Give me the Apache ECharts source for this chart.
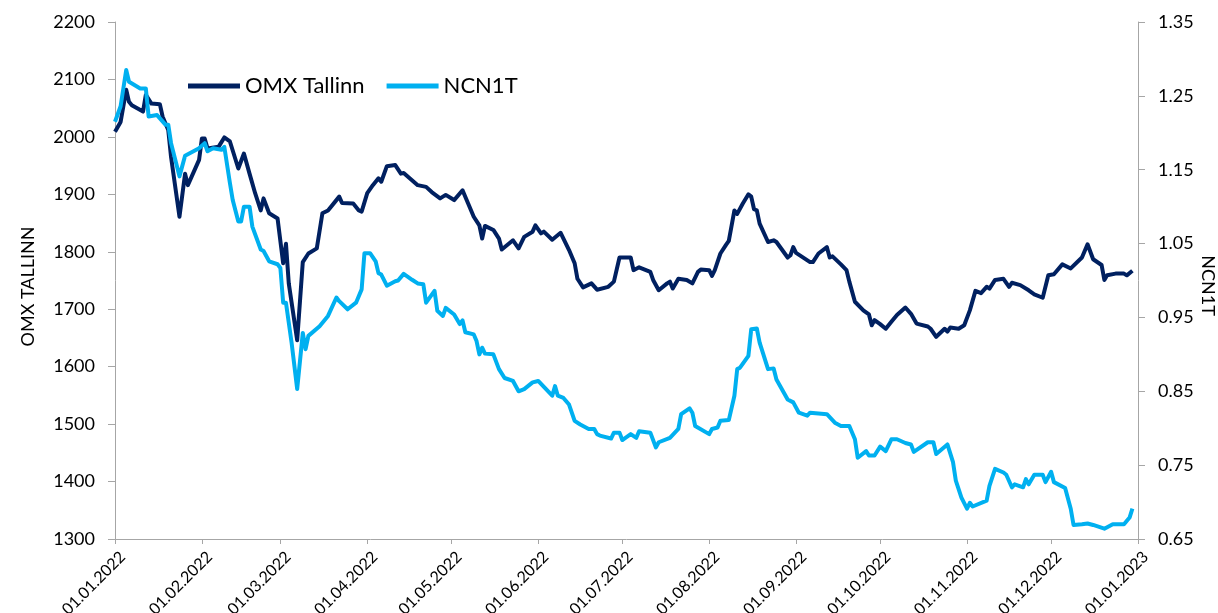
<!DOCTYPE html>
<html>
<head>
<meta charset="utf-8">
<script src="https://cdn.jsdelivr.net/npm/echarts@6/dist/echarts.min.js"></script>
<style>
html,body{margin:0;padding:0;background:#fff;}
#chart{width:1218px;height:613px;}
</style>
</head>
<body>
<div id="chart"></div>
<script>
const seriesNames = ['OMX Tallinn', 'NCN1T'];
const leftAxisName = 'OMX TALLINN';
const rightAxisName = 'NCN1T';
const xTickDates = ['2022-01-01','2022-02-01','2022-03-01','2022-04-01','2022-05-01','2022-06-01','2022-07-01','2022-08-01','2022-09-01','2022-10-01','2022-11-01','2022-12-01','2023-01-01'];

const omxDates = ['2022-01-01','2022-01-03','2022-01-05','2022-01-06','2022-01-07','2022-01-11','2022-01-12','2022-01-14','2022-01-17','2022-01-18','2022-01-20','2022-01-21','2022-01-24','2022-01-26','2022-01-27','2022-01-31',
'2022-02-01','2022-02-02','2022-02-03','2022-02-07','2022-02-09','2022-02-11','2022-02-14','2022-02-16','2022-02-18','2022-02-20','2022-02-22','2022-02-23','2022-02-25','2022-02-28',
'2022-03-02','2022-03-03','2022-03-04','2022-03-07','2022-03-09','2022-03-11','2022-03-14','2022-03-16','2022-03-18','2022-03-22','2022-03-23','2022-03-27','2022-03-29','2022-03-30',
'2022-04-01','2022-04-03','2022-04-05','2022-04-06','2022-04-08','2022-04-11','2022-04-13','2022-04-14','2022-04-19','2022-04-22','2022-04-24','2022-04-27','2022-04-29',
'2022-05-02','2022-05-05','2022-05-07','2022-05-09','2022-05-11','2022-05-12','2022-05-13','2022-05-16','2022-05-18','2022-05-19','2022-05-23','2022-05-25','2022-05-27','2022-05-30','2022-05-31',
'2022-06-02','2022-06-03','2022-06-06','2022-06-09','2022-06-12','2022-06-14','2022-06-15','2022-06-17','2022-06-20','2022-06-22','2022-06-26','2022-06-28','2022-06-30',
'2022-07-04','2022-07-05','2022-07-07','2022-07-11','2022-07-12','2022-07-14','2022-07-17','2022-07-18','2022-07-19','2022-07-21','2022-07-24','2022-07-26','2022-07-28','2022-07-29',
'2022-08-01','2022-08-02','2022-08-03','2022-08-05','2022-08-07','2022-08-08','2022-08-10','2022-08-11','2022-08-13','2022-08-15','2022-08-16','2022-08-17','2022-08-18','2022-08-19','2022-08-22','2022-08-24','2022-08-25','2022-08-29','2022-08-30','2022-08-31',
'2022-09-01','2022-09-06','2022-09-07','2022-09-09','2022-09-12','2022-09-13','2022-09-14','2022-09-17','2022-09-19','2022-09-20','2022-09-22','2022-09-25','2022-09-27','2022-09-28','2022-09-29',
'2022-10-01','2022-10-03','2022-10-05','2022-10-07','2022-10-10','2022-10-12','2022-10-14','2022-10-18','2022-10-19','2022-10-21','2022-10-24','2022-10-25','2022-10-26','2022-10-29','2022-10-31',
'2022-11-02','2022-11-04','2022-11-06','2022-11-08','2022-11-09','2022-11-11','2022-11-14','2022-11-16','2022-11-17','2022-11-20','2022-11-23','2022-11-25','2022-11-28','2022-11-30',
'2022-12-02','2022-12-05','2022-12-08','2022-12-12','2022-12-14','2022-12-16','2022-12-19','2022-12-20','2022-12-21','2022-12-24','2022-12-27','2022-12-28','2022-12-30'];
const omxValues = [2009,2026,2082,2061,2055,2044,2073,2058,2057,2035,2012,1965,1861,1936,1916,1960,
1997,1997,1980,1983,1999,1992,1945,1971,1936,1902,1872,1893,1867,1858,
1780,1814,1745,1646,1782,1797,1806,1867,1872,1896,1885,1884,1872,1870,
1902,1916,1928,1922,1949,1951,1936,1937,1916,1913,1904,1893,1899,
1890,1907,1884,1861,1846,1823,1845,1838,1823,1804,1820,1806,1826,1835,1846,
1832,1835,1821,1833,1803,1780,1753,1738,1745,1734,1739,1748,1790,
1790,1768,1773,1765,1751,1733,1745,1748,1736,1753,1751,1745,1765,1769,
1768,1758,1768,1797,1812,1819,1872,1866,1884,1900,1896,1874,1872,1849,1817,1820,1817,1790,1794,1808,
1798,1782,1782,1797,1808,1790,1792,1778,1768,1748,1713,1698,1691,1672,1681,
1674,1666,1678,1690,1703,1692,1675,1670,1666,1652,1666,1661,1668,1666,1672,
1698,1732,1728,1739,1736,1751,1753,1739,1746,1742,1733,1726,1720,1759,
1761,1778,1771,1790,1813,1787,1777,1751,1759,1762,1762,1759,1767];

const ncnDates = ['2022-01-01','2022-01-03','2022-01-05','2022-01-06','2022-01-10','2022-01-12','2022-01-13','2022-01-16','2022-01-19','2022-01-20','2022-01-21','2022-01-24','2022-01-26','2022-01-28','2022-01-31',
'2022-02-02','2022-02-03','2022-02-05','2022-02-08','2022-02-09','2022-02-11','2022-02-12','2022-02-14','2022-02-15','2022-02-16','2022-02-18','2022-02-19','2022-02-22','2022-02-23','2022-02-25','2022-02-28',
'2022-03-01','2022-03-02','2022-03-03','2022-03-05','2022-03-07','2022-03-09','2022-03-10','2022-03-11','2022-03-15','2022-03-18','2022-03-21','2022-03-22','2022-03-25','2022-03-28','2022-03-30','2022-03-31',
'2022-04-02','2022-04-04','2022-04-05','2022-04-06','2022-04-08','2022-04-11','2022-04-12','2022-04-14','2022-04-17','2022-04-19','2022-04-21','2022-04-22','2022-04-25','2022-04-26','2022-04-28','2022-04-29',
'2022-05-02','2022-05-04','2022-05-05','2022-05-06','2022-05-09','2022-05-10','2022-05-11','2022-05-12','2022-05-13','2022-05-16','2022-05-18','2022-05-20','2022-05-23','2022-05-25','2022-05-27','2022-05-30',
'2022-06-01','2022-06-06','2022-06-07','2022-06-08','2022-06-10','2022-06-12','2022-06-14','2022-06-16','2022-06-19','2022-06-21','2022-06-22','2022-06-23','2022-06-27','2022-06-28','2022-06-30',
'2022-07-01','2022-07-04','2022-07-06','2022-07-07','2022-07-11','2022-07-13','2022-07-14','2022-07-18','2022-07-21','2022-07-22','2022-07-25','2022-07-26','2022-07-27',
'2022-08-01','2022-08-02','2022-08-04','2022-08-05','2022-08-08','2022-08-10','2022-08-11','2022-08-12','2022-08-15','2022-08-16','2022-08-18','2022-08-19','2022-08-22','2022-08-24','2022-08-25','2022-08-29','2022-08-31',
'2022-09-02','2022-09-05','2022-09-06','2022-09-12','2022-09-15','2022-09-17','2022-09-20','2022-09-22','2022-09-23','2022-09-26','2022-09-27','2022-09-29',
'2022-10-01','2022-10-03','2022-10-05','2022-10-07','2022-10-10','2022-10-12','2022-10-13','2022-10-18','2022-10-20','2022-10-21','2022-10-25','2022-10-27','2022-10-28','2022-10-30',
'2022-11-01','2022-11-02','2022-11-03','2022-11-08','2022-11-09','2022-11-11','2022-11-14','2022-11-15','2022-11-17','2022-11-18','2022-11-21','2022-11-22','2022-11-23','2022-11-25','2022-11-28','2022-11-29',
'2022-12-01','2022-12-02','2022-12-06','2022-12-08','2022-12-09','2022-12-12','2022-12-14','2022-12-16','2022-12-20','2022-12-23','2022-12-27','2022-12-29','2022-12-30'];
const ncnValues = [1.215,1.236,1.285,1.269,1.260,1.260,1.222,1.224,1.211,1.211,1.186,1.141,1.169,1.173,1.179,
1.186,1.175,1.179,1.177,1.181,1.132,1.109,1.080,1.080,1.100,1.100,1.073,1.042,1.040,1.026,1.022,
1.017,0.970,0.970,0.916,0.853,0.929,0.907,0.925,0.938,0.952,0.977,0.972,0.961,0.970,0.988,1.037,
1.037,1.026,1.010,1.008,0.993,0.999,1.000,1.009,1.001,0.996,0.995,0.970,0.986,0.959,0.952,0.963,
0.954,0.941,0.946,0.930,0.927,0.918,0.900,0.909,0.901,0.900,0.880,0.868,0.864,0.850,0.853,0.862,
0.864,0.844,0.857,0.844,0.841,0.832,0.810,0.805,0.799,0.799,0.792,0.790,0.786,0.794,0.794,
0.784,0.792,0.787,0.796,0.794,0.774,0.781,0.787,0.799,0.819,0.827,0.821,0.803,
0.792,0.799,0.801,0.810,0.811,0.844,0.880,0.882,0.898,0.934,0.935,0.916,0.880,0.881,0.866,0.839,0.835,
0.821,0.817,0.821,0.819,0.807,0.803,0.803,0.785,0.760,0.769,0.763,0.763,
0.775,0.769,0.785,0.785,0.780,0.778,0.768,0.781,0.781,0.765,0.778,0.754,0.729,0.706,
0.691,0.699,0.694,0.702,0.722,0.745,0.740,0.737,0.720,0.724,0.720,0.731,0.724,0.737,0.737,0.727,
0.741,0.727,0.719,0.691,0.669,0.670,0.671,0.669,0.664,0.670,0.670,0.679,0.691];

function ts(s) { const p = s.split('-'); return new Date(+p[0], +p[1] - 1, +p[2]).getTime(); }
function pad(n) { return (n < 10 ? '0' : '') + n; }
function fmtDate(v) { const d = new Date(v); return pad(d.getDate()) + '.' + pad(d.getMonth() + 1) + '.' + d.getFullYear(); }

const omxData = omxDates.map((d, i) => [ts(d), omxValues[i]]);
const ncnData = ncnDates.map((d, i) => [ts(d), ncnValues[i]]);
const tickTs = xTickDates.map(ts);

const FONT = 'Lato';
const AXIS_COLOR = '#A6A6A6';

const chart = echarts.init(document.getElementById('chart'), null, { renderer: 'canvas' });
chart.setOption({
  animation: false,
  backgroundColor: '#ffffff',
  textStyle: { fontFamily: FONT },
  grid: { left: 115, right: 80, top: 22, bottom: 74, containLabel: false, outerBoundsMode: 'none' },
  legend: {
    data: seriesNames,
    left: 188, top: 75, padding: 0,
    icon: 'rect', itemWidth: 52, itemHeight: 5, itemGap: 22,
    textStyle: { fontFamily: FONT, fontSize: 22, color: '#000' }
  },
  xAxis: {
    type: 'value',
    min: tickTs[0], max: tickTs[tickTs.length - 1],
    axisLine: { show: true, onZero: false, lineStyle: { color: AXIS_COLOR, width: 1 } },
    axisTick: { show: true, customValues: tickTs, length: 5, lineStyle: { color: AXIS_COLOR } },
    axisLabel: {
      customValues: tickTs, rotate: 45, margin: 23, hideOverlap: false,
      padding: [0, -11, 0, 0],
      fontFamily: FONT, fontSize: 16, color: '#000',
      formatter: fmtDate
    },
    splitLine: { show: false }
  },
  yAxis: [
    {
      type: 'value', min: 1300, max: 2200, interval: 100,
      name: leftAxisName, nameLocation: 'middle', nameGap: 78, nameRotate: 90, nameMoveOverlap: false,
      nameTextStyle: { fontFamily: FONT, fontSize: 18, color: '#000', padding: [0, 12, 0, 0] },
      axisLine: { show: true, lineStyle: { color: AXIS_COLOR, width: 1 } },
      axisTick: { show: true, length: 7, lineStyle: { color: AXIS_COLOR } },
      axisLabel: { margin: 20, fontFamily: FONT, fontSize: 18, color: '#000', formatter: v => String(v) },
      splitLine: { show: false }
    },
    {
      type: 'value', min: 0.65, max: 1.35, interval: 0.1, position: 'right',
      name: rightAxisName, nameLocation: 'middle', nameGap: 61, nameRotate: -90, nameMoveOverlap: false,
      nameTextStyle: { fontFamily: FONT, fontSize: 18, color: '#000', padding: [0, 0, 0, 10] },
      axisLine: { show: true, lineStyle: { color: AXIS_COLOR, width: 1 } },
      axisTick: { show: true, length: 7, lineStyle: { color: AXIS_COLOR } },
      axisLabel: { margin: 20, fontFamily: FONT, fontSize: 18, color: '#000', formatter: v => v.toFixed(2) },
      splitLine: { show: false }
    }
  ],
  series: [
    {
      name: seriesNames[0], type: 'line', yAxisIndex: 0, data: omxData,
      symbol: 'none', smooth: false,
      itemStyle: { color: '#002060' },
      lineStyle: { color: '#002060', width: 4, join: 'round' }
    },
    {
      name: seriesNames[1], type: 'line', yAxisIndex: 1, data: ncnData,
      symbol: 'none', smooth: false,
      itemStyle: { color: '#00B0F0' },
      lineStyle: { color: '#00B0F0', width: 4, join: 'round' }
    }
  ]
});
</script>
</body>
</html>
